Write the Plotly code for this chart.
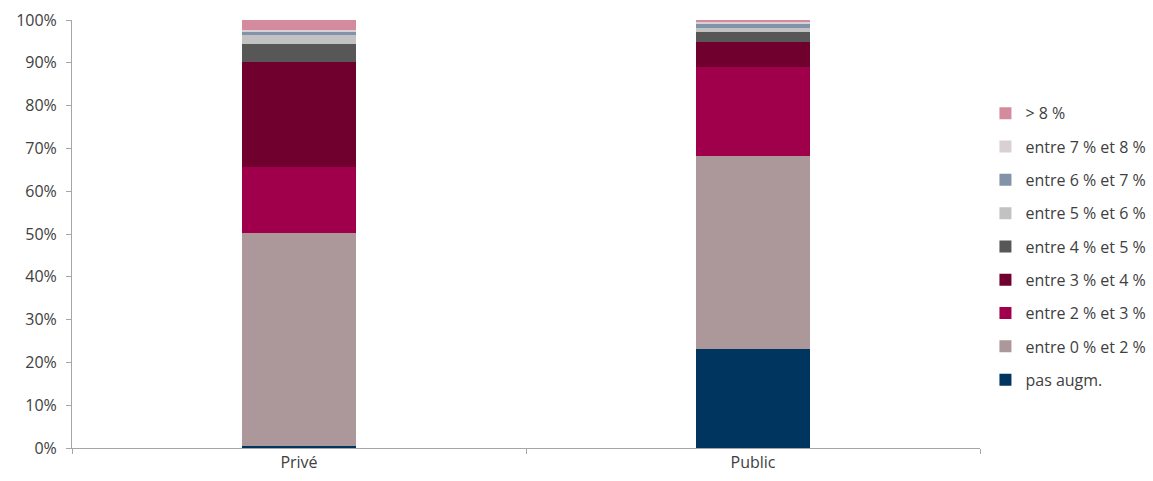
import plotly.graph_objects as go

categories = ["Privé", "Public"]
series_names = ["pas augm.", "entre 0 % et 2 %", "entre 2 % et 3 %", "entre 3 % et 4 %",
                "entre 4 % et 5 %", "entre 5 % et 6 %", "entre 6 % et 7 %", "entre 7 % et 8 %", "> 8 %"]
pas_augm = [0.5, 23.1]
entre_0_2 = [49.7, 45.1]
entre_2_3 = [15.5, 20.9]
entre_3_4 = [24.5, 5.7]
entre_4_5 = [4.1, 2.3]
entre_5_6 = [2.3, 1.0]
entre_6_7 = [0.7, 1.0]
entre_7_8 = [0.3, 0.4]
sup_8 = [2.4, 0.5]
series_values = [pas_augm, entre_0_2, entre_2_3, entre_3_4, entre_4_5,
                 entre_5_6, entre_6_7, entre_7_8, sup_8]
colors = ["#00355f", "#ac979b", "#a0004b", "#70002d", "#575757",
          "#c2c2c2", "#8192a9", "#d8d0d5", "#d38b9d"]
tick_vals = [0, 10, 20, 30, 40, 50, 60, 70, 80, 90, 100]
tick_text = [f"{v}%" for v in tick_vals]

fig = go.Figure()
n = len(series_names)
for i, (name, vals, col) in enumerate(zip(series_names, series_values, colors)):
    fig.add_trace(go.Bar(x=categories, y=vals, name=name, marker_color=col,
                         marker_line_width=0, legendgroup=f"g{i}", legendrank=1000 + n - i))

fig.update_layout(
    barmode="stack",
    bargap=0.75,
    width=1153, height=481,
    margin=dict(l=72, r=173, t=20, b=33, autoexpand=False),
    plot_bgcolor="white", paper_bgcolor="white",
    font=dict(family="Open Sans", size=16, color="#404040"),
    legend=dict(traceorder="grouped", x=1.006, xanchor="left", y=0.47, yanchor="middle",
                tracegroupgap=9.5, font=dict(size=16), itemwidth=30),
    showlegend=True,
)
fig.update_yaxes(range=[0, 100], tickvals=tick_vals, ticktext=tick_text,
                 showgrid=False, showline=True, linecolor="#a6a6a6", linewidth=1,
                 ticks="outside", ticklen=5, tickcolor="#a6a6a6", zeroline=False,
                 ticklabelstandoff=6)
fig.update_xaxes(showgrid=False, showline=True, linecolor="#a6a6a6", linewidth=1,
                 ticks="outside", ticklen=5, tickcolor="#a6a6a6", tickson="boundaries")
fig.write_html("out.html")
